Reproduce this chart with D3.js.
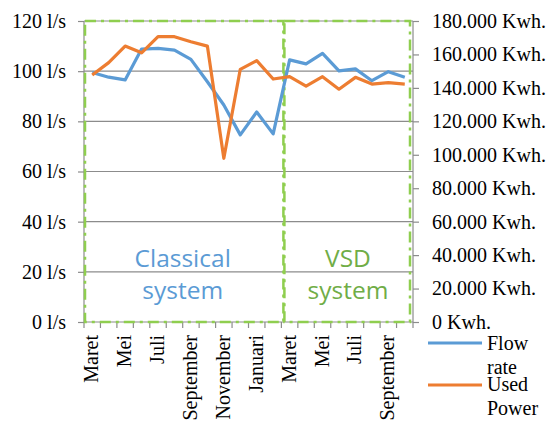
<!DOCTYPE html>
<meta charset="utf-8">
<head>
<style>
body { margin: 0; background: #fff; }
svg text { font-family: "Liberation Serif", "Times New Roman", serif; }
.grid line { stroke: #8c8c8c; stroke-width: 1.2px; }
.axis path, .axis line { stroke: #8c8c8c; stroke-width: 1.2px; }
.axis text { font-size: 20px; fill: #000; }
.box { fill: none; stroke: #8fce4f; stroke-width: 2.5px; stroke-dasharray: 11 5 3 5; }
.zone { font-family: "Open Sans", "Liberation Sans", sans-serif; font-size: 24.5px; text-anchor: middle; }
</style>
<script src="https://d3js.org/d3.v7.min.js"></script>
</head>
<body>
<svg width="554" height="426"></svg>
<script>

// months, classical year then VSD year
var months = ["Maret","April","Mei","Juni","Juli","Agustus","September","Oktober","November","Desember","Januari","Februari",
              "Maret ","April ","Mei ","Juni ","Juli ","Agustus ","September ","Oktober "];
var flowRate = [99.5, 97.6, 96.5, 108.8, 109.1, 108.4, 104.7, 95.8, 86.5, 74.6, 83.7, 75,
                104.5, 102.9, 107.1, 100.1, 100.9, 96.2, 99.8, 97.6];
var usedPower = [147700, 155100, 165000, 161000, 170600, 170600, 167600, 165000, 97900, 151100, 156300, 145300,
                 146700, 141100, 146700, 139200, 146300, 142300, 143100, 142300];
var leftTicks = [0, 20, 40, 60, 80, 100, 120];
var rightTicks = [0, 20000, 40000, 60000, 80000, 100000, 120000, 140000, 160000, 180000];
var classicalCount = 12;

var svg = d3.select("svg");
var plotLeft = 84, plotRight = 413, plotTop = 21, plotBottom = 322;

var x = d3.scaleBand().domain(months).range([plotLeft, plotRight]);
var yL = d3.scaleLinear().domain([0, 120]).range([plotBottom, plotTop]);
var yR = d3.scaleLinear().domain([0, 180000]).range([plotBottom, plotTop]);

// gridlines
svg.append("g").attr("class", "grid")
  .selectAll("line").data(leftTicks.slice(1))
  .enter().append("line")
    .attr("x1", plotLeft).attr("x2", plotRight)
    .attr("y1", function(d) { return yL(d); })
    .attr("y2", function(d) { return yL(d); });

// left axis
var gl = svg.append("g").attr("class", "axis")
  .attr("transform", "translate(" + plotLeft + ",0)")
  .call(d3.axisLeft(yL).tickValues(leftTicks).tickSize(6).tickPadding(12)
    .tickFormat(function(d) { return d + " l/s"; }));
gl.select(".domain").attr("d", "M0," + plotTop + "V" + plotBottom);

// right axis
var gr = svg.append("g").attr("class", "axis")
  .attr("transform", "translate(" + plotRight + ",0)")
  .call(d3.axisRight(yR).tickValues(rightTicks).tickSize(6).tickPadding(13)
    .tickFormat(function(d) { return d == 0 ? "0 Kwh." : d3.format(",")(d).replace(/,/g, ".") + " Kwh."; }));
gr.select(".domain").attr("d", "M0," + plotTop + "V" + plotBottom);

// x axis: ticks at category boundaries
var gx = svg.append("g").attr("class", "axis");
gx.append("line").attr("x1", plotLeft).attr("x2", plotRight).attr("y1", plotBottom).attr("y2", plotBottom);
gx.selectAll(".tk").data(d3.range(months.length + 1))
  .enter().append("line")
    .attr("x1", function(i) { return plotLeft + i * x.step(); })
    .attr("x2", function(i) { return plotLeft + i * x.step(); })
    .attr("y1", plotBottom).attr("y2", plotBottom + 6);
gx.selectAll(".lbl").data(months.filter(function(d, i) { return i % 2 == 0; }))
  .enter().append("text")
    .attr("transform", function(d) {
      return "translate(" + (x(d) + x.bandwidth() / 2 + 6) + "," + (plotBottom + 13) + ") rotate(-90)";
    })
    .attr("text-anchor", "end")
    .text(function(d) { return d.trim(); });

// dashed boxes for the two periods
var split = plotLeft + classicalCount * x.step();
svg.append("rect").attr("class", "box")
  .attr("x", plotLeft + 1).attr("y", plotTop).attr("width", split - plotLeft + 1).attr("height", plotBottom - plotTop);
svg.append("rect").attr("class", "box")
  .attr("x", split + 3).attr("y", plotTop).attr("width", plotRight - split - 6).attr("height", plotBottom - plotTop);

svg.append("text").attr("class", "zone").attr("fill", "#5b9bd5")
  .attr("x", (plotLeft + split) / 2).attr("y", 267).text("Classical");
svg.append("text").attr("class", "zone").attr("fill", "#5b9bd5")
  .attr("x", (plotLeft + split) / 2).attr("y", 299).text("system");
svg.append("text").attr("class", "zone").attr("fill", "#70ad47")
  .attr("x", 348).attr("y", 267).text("VSD");
svg.append("text").attr("class", "zone").attr("fill", "#70ad47")
  .attr("x", 348).attr("y", 299).text("system");

// lines
var cx = function(i) { return x(months[i]) + x.bandwidth() / 2; };
var flowLine = d3.line().x(function(d, i) { return cx(i); }).y(function(d) { return yL(d); });
var powerLine = d3.line().x(function(d, i) { return cx(i); }).y(function(d) { return yR(d); });

svg.append("path").datum(flowRate)
  .attr("d", flowLine).attr("fill", "none")
  .attr("stroke", "#5b9bd5").attr("stroke-width", 3.2).attr("stroke-linejoin", "round");
svg.append("path").datum(usedPower)
  .attr("d", powerLine).attr("fill", "none")
  .attr("stroke", "#ed7d31").attr("stroke-width", 3.2).attr("stroke-linejoin", "round");

// legend
var legend = [
  { name: ["Flow", "rate"], color: "#5b9bd5", y: 343, ty: 350 },
  { name: ["Used", "Power"], color: "#ed7d31", y: 385, ty: 391 }
];
var lg = svg.selectAll(".leg").data(legend).enter().append("g");
lg.append("line")
  .attr("x1", 428).attr("x2", 482)
  .attr("y1", function(d) { return d.y; }).attr("y2", function(d) { return d.y; })
  .attr("stroke", function(d) { return d.color; }).attr("stroke-width", 3.2);
lg.append("text").attr("x", 487).attr("y", function(d) { return d.ty; })
  .attr("font-size", "20px").text(function(d) { return d.name[0]; });
lg.append("text").attr("x", 487).attr("y", function(d) { return d.ty + 24; })
  .attr("font-size", "20px").text(function(d) { return d.name[1]; });

</script>
</body>
